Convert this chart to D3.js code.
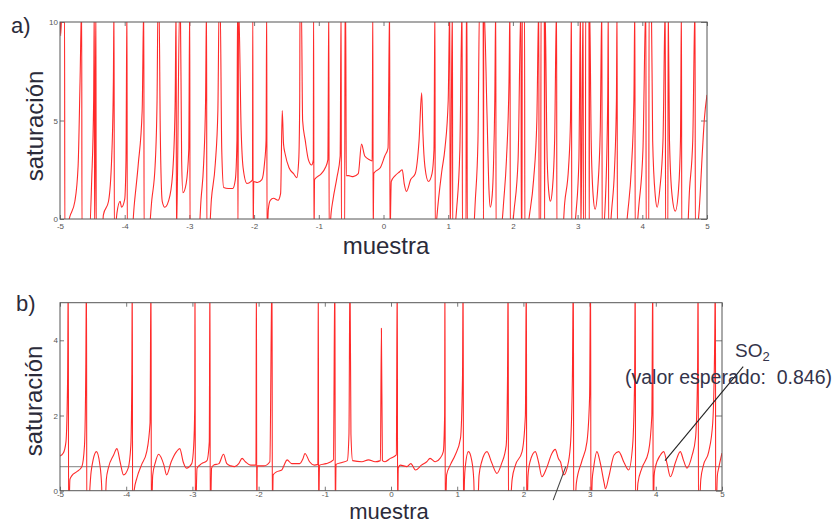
<!DOCTYPE html>
<html><head><meta charset="utf-8">
<script src="https://cdn.jsdelivr.net/npm/d3@7"></script>
<style>
html,body{margin:0;padding:0;background:#fff;}
svg{display:block;font-family:"Liberation Sans",Arial,sans-serif;}
</style></head>
<body><svg id="chart" width="837" height="525"></svg>
<script>
// ---------- data ----------
const xTicks = [-5,-4,-3,-2,-1,0,1,2,3,4,5];
const yTicksA = [0,5,10];
const yTicksB = [0,2,4];
const refLevelB = 0.64;           // grey reference line in panel b
const annoLabel = "SO";
const annoSub = "2";
const annoText = "(valor esperado:  0.846)";
const xLabel = "muestra";
const yLabel = "saturación";

// panel a: saturation vs sample (values beyond the frame are clipped)
const seriesA = [[-5.0,11],[-4.99,9.3],[-4.965,11],[-4.93,11],[-4.925,-1],[-4.88,-0.3],[-4.85,0.1],[-4.77,0.9],[-4.72,2.7],[-4.69,7],[-4.665,11],[-4.66,-1],[-4.55,-1],[-4.51,2],[-4.48,6],[-4.47,11],[-4.465,-1],[-4.445,11],[-4.44,-1],[-4.35,-1],[-4.33,0.2],[-4.25,0.9],[-4.2,3.2],[-4.175,7],[-4.165,11],[-4.16,-1],[-4.12,0.3],[-4.07,0.9],[-4.05,0.6],[-4.0,1.0],[-3.98,3],[-3.965,11],[-3.96,-1],[-3.9,-1],[-3.85,0.8],[-3.79,2.8],[-3.73,5.5],[-3.705,11],[-3.7,-1],[-3.64,-1],[-3.58,1.0],[-3.53,2.7],[-3.5,6],[-3.485,11],[-3.47,11],[-3.45,4.4],[-3.42,0.9],[-3.38,0.6],[-3.3,1.2],[-3.25,2.8],[-3.22,6],[-3.205,11],[-3.2,-1],[-3.15,11],[-3.14,11],[-3.12,3],[-3.1,1.34],[-3.05,1.8],[-3.01,3.5],[-2.995,11],[-2.99,-1],[-2.86,-1],[-2.82,1],[-2.78,2.8],[-2.75,6],[-2.735,11],[-2.73,-1],[-2.7,-1],[-2.66,1],[-2.6,2.8],[-2.56,5.5],[-2.54,11],[-2.525,11],[-2.5,3.5],[-2.47,1.6],[-2.4,1.55],[-2.33,1.55],[-2.29,2.0],[-2.265,4],[-2.255,11],[-2.25,-1],[-2.24,11],[-2.2,4.5],[-2.17,2.6],[-2.11,1.8],[-2.05,1.9],[-2.025,2.0],[-2.02,11],[-2.015,-1],[-2.005,1.9],[-1.95,1.85],[-1.88,2.0],[-1.84,2.8],[-1.815,4],[-1.805,11],[-1.8,-1],[-1.78,0.5],[-1.75,0.95],[-1.7,1.05],[-1.63,0.95],[-1.59,1.3],[-1.565,5.5],[-1.545,3.8],[-1.52,3.3],[-1.46,2.6],[-1.39,2.3],[-1.34,2.1],[-1.31,3.0],[-1.295,6],[-1.29,11],[-1.27,11],[-1.25,5],[-1.21,4.0],[-1.16,3.0],[-1.11,2.74],[-1.085,3.0],[-1.08,11],[-1.075,-1],[-1.065,2.0],[-0.96,2.3],[-0.9,2.6],[-0.86,3.0],[-0.845,11],[-0.84,-1],[-0.81,0.3],[-0.78,1.0],[-0.72,2.1],[-0.67,3.2],[-0.655,11],[-0.65,-1],[-0.6,-1],[-0.595,11],[-0.585,11],[-0.575,2.2],[-0.54,2.2],[-0.47,2.15],[-0.39,2.3],[-0.34,3.8],[-0.29,3.2],[-0.21,3.0],[-0.175,2.95],[-0.165,11],[-0.16,-1],[-0.15,2.3],[-0.13,2.4],[-0.05,2.6],[0.02,3.2],[0.07,3.6],[0.095,11],[0.1,-1],[0.12,1.9],[0.18,2.2],[0.25,2.4],[0.29,2.5],[0.32,1.8],[0.355,1.4],[0.42,2.0],[0.49,2.3],[0.55,4.0],[0.59,6.4],[0.61,4.3],[0.64,2.66],[0.695,1.9],[0.75,2.3],[0.78,3.5],[0.795,11],[0.8,-1],[0.825,0.1],[0.9,2.4],[0.95,3.6],[1.0,6],[1.025,11],[1.03,-1],[1.065,11],[1.07,-1],[1.13,0.5],[1.18,3.5],[1.215,11],[1.22,-1],[1.275,-1],[1.28,11],[1.29,11],[1.295,-1],[1.38,-1],[1.42,1],[1.46,4],[1.485,11],[1.54,11],[1.545,-1],[1.55,11],[1.6,5.3],[1.63,1.5],[1.65,0.6],[1.68,1.2],[1.7,2.7],[1.72,6],[1.735,11],[1.74,-1],[1.82,-0.5],[1.86,1.0],[1.9,3],[1.94,7],[1.955,11],[1.96,-1],[2.02,0.5],[2.08,3],[2.125,11],[2.13,-1],[2.14,-1],[2.145,11],[2.18,11],[2.185,-1],[2.26,0.3],[2.32,2],[2.37,5],[2.4,11],[2.405,-1],[2.43,-1],[2.435,11],[2.485,11],[2.49,-1],[2.495,11],[2.53,3],[2.56,1.2],[2.58,0.9],[2.61,1.5],[2.645,4],[2.675,11],[2.68,-1],[2.76,-1],[2.8,0.8],[2.86,2.6],[2.89,5],[2.905,11],[2.91,-1],[2.98,0.5],[3.02,3],[3.045,11],[3.05,-1],[3.085,11],[3.09,-1],[3.12,-1],[3.125,11],[3.175,11],[3.18,-1],[3.185,11],[3.21,4],[3.24,1.2],[3.27,0.5],[3.31,1.5],[3.35,4.5],[3.375,11],[3.38,-1],[3.43,1],[3.465,6],[3.475,11],[3.48,-1],[3.53,0.6],[3.57,2.5],[3.6,6],[3.61,11],[3.615,-1],[3.72,-1],[3.78,0.5],[3.83,2.5],[3.87,6],[3.885,11],[3.89,-1],[3.95,0.8],[4.01,3.5],[4.055,11],[4.06,-1],[4.1,-1],[4.105,11],[4.14,11],[4.16,4],[4.2,1.2],[4.23,0.6],[4.27,1.5],[4.32,4],[4.355,11],[4.36,-1],[4.395,-1],[4.4,11],[4.42,4],[4.46,1.2],[4.51,0.4],[4.56,1.5],[4.59,4],[4.605,11],[4.61,-1],[4.69,-1],[4.73,1.5],[4.78,4],[4.815,11],[4.82,-1],[4.88,0.5],[4.93,3.5],[4.96,5.1],[5.0,6.3]];

// panel b
const seriesB = [[-5.0,0.92],[-4.95,1.0],[-4.91,1.3],[-4.885,3],[-4.875,6],[-4.87,-1],[-4.85,0.3],[-4.82,0.4],[-4.75,0.5],[-4.67,0.64],[-4.63,1.2],[-4.61,3.3],[-4.6,6],[-4.595,-1],[-4.53,0.5],[-4.5,0.82],[-4.45,1.04],[-4.4,0.72],[-4.37,0.1],[-4.36,-1],[-4.33,-1],[-4.3,0.3],[-4.27,0.6],[-4.19,0.95],[-4.14,1.12],[-4.09,0.75],[-4.04,0.42],[-3.97,0.6],[-3.93,1.2],[-3.915,3],[-3.908,6],[-3.903,-1],[-3.88,0.0],[-3.84,0.33],[-3.77,0.68],[-3.69,1.04],[-3.64,1.8],[-3.625,6],[-3.62,-1],[-3.6,0.4],[-3.56,0.75],[-3.51,0.97],[-3.43,0.68],[-3.39,0.42],[-3.32,0.77],[-3.24,1.04],[-3.19,1.12],[-3.14,0.77],[-3.09,0.6],[-3.01,0.72],[-2.98,1.2],[-2.965,2.2],[-2.96,6],[-2.955,-1],[-2.93,0.6],[-2.86,0.72],[-2.78,0.8],[-2.745,1.3],[-2.735,6],[-2.73,-1],[-2.71,0.6],[-2.68,0.68],[-2.6,0.72],[-2.53,0.97],[-2.48,0.72],[-2.42,0.66],[-2.36,0.64],[-2.3,0.72],[-2.25,0.86],[-2.2,0.77],[-2.12,0.68],[-2.04,0.68],[-2.033,6],[-2.028,-1],[-2.02,0.66],[-1.92,0.66],[-1.83,0.77],[-1.797,6],[-1.792,-1],[-1.78,0.42],[-1.73,0.5],[-1.65,0.55],[-1.61,0.7],[-1.57,0.82],[-1.5,0.72],[-1.38,0.72],[-1.33,0.85],[-1.3,0.99],[-1.23,0.77],[-1.16,0.68],[-1.105,0.7],[-1.098,6],[-1.093,-1],[-1.08,0.68],[-0.98,0.72],[-0.87,0.82],[-0.847,6],[-0.842,-1],[-0.83,0.7],[-0.74,0.75],[-0.66,0.8],[-0.635,1.5],[-0.62,6],[-0.605,1.5],[-0.58,0.8],[-0.44,0.77],[-0.34,0.82],[-0.24,0.77],[-0.16,0.8],[-0.145,4.32],[-0.13,0.8],[-0.09,0.77],[-0.01,0.86],[0.08,0.95],[0.095,6],[0.1,-1],[0.11,0.6],[0.14,0.68],[0.24,0.64],[0.3,0.72],[0.37,0.55],[0.46,0.68],[0.54,0.77],[0.59,0.86],[0.67,0.77],[0.74,0.86],[0.79,1.04],[0.81,2],[0.815,6],[0.82,-1],[0.84,0.42],[0.9,0.7],[0.97,0.95],[1.05,1.4],[1.08,3],[1.09,6],[1.095,-1],[1.11,0.3],[1.12,0.6],[1.17,1.04],[1.22,0.8],[1.25,0.3],[1.27,-1],[1.3,-1],[1.33,0.4],[1.37,0.77],[1.45,1.04],[1.52,0.75],[1.6,0.46],[1.67,0.72],[1.74,1.2],[1.76,3],[1.77,6],[1.775,-1],[1.83,0.3],[1.88,0.68],[1.98,1.04],[2.03,2],[2.045,6],[2.05,-1],[2.07,0.4],[2.1,0.77],[2.18,1.04],[2.23,0.75],[2.28,0.37],[2.35,0.6],[2.43,0.99],[2.48,1.1],[2.53,0.85],[2.56,0.77],[2.61,0.42],[2.66,0.6],[2.71,1.2],[2.74,3],[2.755,6],[2.76,-1],[2.8,0.2],[2.88,0.77],[2.96,1.3],[3.0,2.5],[3.015,6],[3.02,-1],[3.04,0.3],[3.06,0.6],[3.11,1.04],[3.16,0.75],[3.22,0.2],[3.24,0.05],[3.29,0.37],[3.37,0.95],[3.44,1.04],[3.52,0.75],[3.59,0.55],[3.65,1.2],[3.68,3],[3.69,6],[3.695,-1],[3.73,0.2],[3.79,0.6],[3.89,1.04],[3.94,2],[3.955,6],[3.96,-1],[3.975,0.4],[3.99,0.6],[4.07,0.95],[4.12,1.04],[4.17,0.72],[4.22,0.37],[4.3,0.77],[4.37,1.04],[4.42,0.8],[4.47,0.6],[4.55,0.95],[4.6,1.4],[4.63,3],[4.64,6],[4.645,-1],[4.68,0.3],[4.72,0.68],[4.8,1.04],[4.86,1.8],[4.89,4],[4.9,6],[4.905,-1],[4.93,0.4],[4.95,0.6],[5.0,1.0]];

// annotation leader lines (data units of panel b)
const leaderSO2 = [[4.14,0.80],[5.32,3.30]];
const leaderRef = [[2.45,-0.25],[2.64,0.64]];

// ---------- drawing ----------
const svg = d3.select("#chart");
const FONT = '"Liberation Sans",Arial,sans-serif';
const RED = "#ff2a2a";

function panel(cfg){
  const x = d3.scaleLinear().domain([-5,5]).range([cfg.left, cfg.right]);
  const y = d3.scaleLinear().domain(cfg.yDomain).range([cfg.bottom, cfg.top]);
  const g = svg.append("g");
  const clipId = "clip" + cfg.id;
  svg.append("defs").append("clipPath").attr("id", clipId)
    .append("rect").attr("x", cfg.left).attr("y", cfg.top)
    .attr("width", cfg.right-cfg.left).attr("height", cfg.bottom-cfg.top);

  const styleAxis = sel => {
    sel.select(".domain").remove();
    sel.selectAll(".tick line").attr("stroke","#555").attr("stroke-width",0.8);
    sel.selectAll(".tick text").attr("fill","#555").attr("font-size",8).attr("font-family",FONT);
  };
  g.append("g").attr("transform",`translate(0,${cfg.bottom})`)
    .call(d3.axisBottom(x).tickValues(xTicks).tickSize(-4).tickPadding(cfg.xPad).tickFormat(d=>String(d)))
    .call(styleAxis);
  g.append("g").attr("transform",`translate(0,${cfg.top})`)
    .call(d3.axisTop(x).tickValues(xTicks).tickSize(-4).tickFormat(""))
    .call(styleAxis);
  g.append("g").attr("transform",`translate(${cfg.left},0)`)
    .call(d3.axisLeft(y).tickValues(cfg.yTicks).tickSize(-4).tickPadding(2).tickFormat(d=>String(d)))
    .call(styleAxis);
  g.append("g").attr("transform",`translate(${cfg.right},0)`)
    .call(d3.axisRight(y).tickValues(cfg.yTicks).tickSize(-6).tickFormat(""))
    .call(styleAxis);

  if (cfg.ref !== undefined) {
    g.append("line").attr("x1",x(-5)).attr("x2",x(5)).attr("y1",y(cfg.ref)).attr("y2",y(cfg.ref))
      .attr("stroke","#9a9a9a").attr("stroke-width",1.2);
  }

  const line = d3.line().x(d=>x(d[0])).y(d=>y(d[1])).curve(d3.curveMonotoneX);
  g.append("path").datum(cfg.data).attr("clip-path",`url(#${clipId})`)
    .attr("d", line).attr("fill","none").attr("stroke",RED).attr("stroke-width",1.1)
    .attr("stroke-linejoin","round");

  g.append("rect").attr("x",cfg.left).attr("y",cfg.top)
    .attr("width",cfg.right-cfg.left).attr("height",cfg.bottom-cfg.top)
    .attr("fill","none").attr("stroke","#555").attr("stroke-width",1);

  // labels
  svg.append("text").attr("x",cfg.tagX).attr("y",cfg.tagY).text(cfg.tag)
    .attr("font-size",22).attr("fill","#2b2b3a").attr("font-family",FONT);
  svg.append("text").attr("transform",`translate(${cfg.yLabX},${cfg.yLabY}) rotate(-90)`)
    .attr("text-anchor","middle").attr("font-size",24).attr("fill","#2b2b3a")
    .attr("font-family",FONT).text(yLabel);
  svg.append("text").attr("x",cfg.xLabX).attr("y",cfg.xLabY).attr("text-anchor","middle")
    .attr("font-size",cfg.xLabSize).attr("fill","#2b2b3a").attr("font-family",FONT).text(xLabel);
  return {x,y};
}

panel({id:"a", left:60, right:707, top:22, bottom:219, yDomain:[0,10], yTicks:yTicksA, xPad:4,
  data:seriesA, tag:"a)", tagX:11, tagY:33, yLabX:43, yLabY:126, xLabX:386, xLabY:254, xLabSize:24});

const pb = panel({id:"b", left:60, right:722, top:302.7, bottom:490.7, yDomain:[0,5], yTicks:yTicksB, xPad:1,
  data:seriesB, ref:refLevelB, tag:"b)", tagX:16, tagY:311, yLabX:42, yLabY:401, xLabX:389, xLabY:519, xLabSize:22});

// annotations
const ll = d3.line().x(d=>pb.x(d[0])).y(d=>pb.y(d[1]));
svg.append("path").datum(leaderSO2).attr("d",ll).attr("stroke","#222").attr("stroke-width",1.1).attr("fill","none");
svg.append("path").datum(leaderRef).attr("d",ll).attr("stroke","#444").attr("stroke-width",1.1).attr("fill","none");

const t1 = svg.append("text").attr("x",735).attr("y",357).attr("font-size",19)
  .attr("fill","#33334a").attr("font-family",FONT);
t1.append("tspan").text(annoLabel);
t1.append("tspan").attr("dy",4).attr("font-size",13).text(annoSub);
svg.append("text").attr("x",625).attr("y",384).attr("font-size",19.5)
  .attr("fill","#33334a").attr("font-family",FONT).style("white-space","pre").text(annoText);
</script>
</body></html>
